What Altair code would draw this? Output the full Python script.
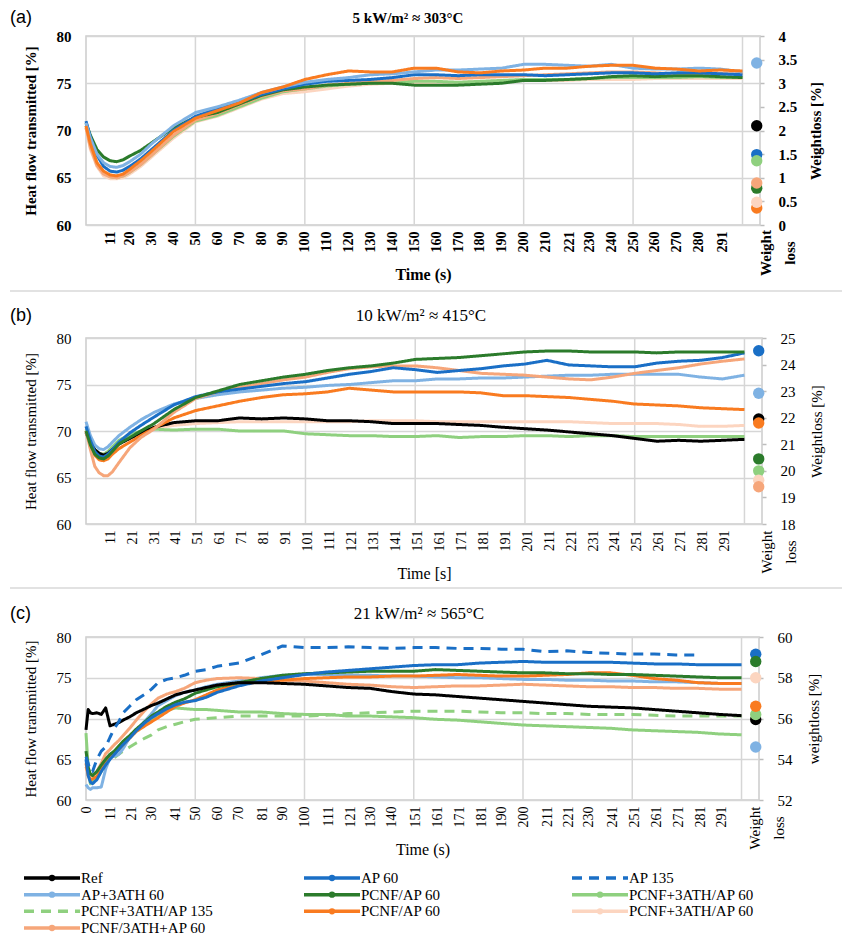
import altair as alt
import pandas as pd

# ---------------- series definitions ----------------
KEYS = ["ref", "ap60", "ap135", "ap3ath60", "pcnf_ap60_g", "pcnf3ath_ap60_lg",
        "pcnf3ath_ap135", "pcnf_ap60_o", "pcnf3ath_ap60_p", "pcnf_3athap60_s"]
LABELS = ["Ref", "AP 60", "AP 135", "AP+3ATH 60", "PCNF/AP 60", "PCNF+3ATH/AP 60",
          "PCNF+3ATH/AP 135", "PCNF/AP 60", "PCNF+3ATH/AP 60", "PCNF/3ATH+AP 60"]
COLORS = ["#000000", "#1a6fc6", "#1a6fc6", "#7fb2e3", "#2b7b2b", "#8fd07f",
          "#8fd07f", "#f97b20", "#fcd5c0", "#f6a67a"]
DASHED_KEYS = ["ap135", "pcnf3ath_ap135"]

# ---------------- panel (a): 5 kW/m2 ----------------
A_T = [0, 2, 5, 8, 11, 14, 17, 20, 25, 30, 40, 50, 60, 70, 80, 90, 100, 110, 120, 130,
       140, 150, 160, 170, 180, 190, 200, 210, 220, 230, 240, 250, 260, 270, 280, 290, 300]
A_AP60 = [71.0, 69.3, 67.4, 66.2, 65.7, 65.6, 65.8, 66.2, 67.0, 68.0, 70.0, 71.5, 72.3, 73.0,
          73.8, 74.4, 74.9, 75.2, 75.3, 75.4, 75.6, 75.9, 75.9, 75.8, 75.9, 75.9, 75.9, 75.8,
          75.9, 76.0, 76.1, 76.1, 76.0, 76.1, 76.1, 76.0, 75.9]
A_AP3ATH60 = [70.8, 69.2, 67.5, 66.6, 66.2, 66.1, 66.3, 66.7, 67.5, 68.6, 70.5, 71.9, 72.5, 73.2,
              74.0, 74.6, 75.1, 75.4, 75.6, 75.9, 76.0, 76.2, 76.4, 76.4, 76.5, 76.6, 77.0, 77.0,
              76.9, 76.8, 77.0, 76.6, 76.5, 76.5, 76.6, 76.5, 76.2]
A_PCNF_G = [70.8, 69.5, 68.0, 67.2, 66.8, 66.7, 66.9, 67.3, 67.9, 68.7, 70.3, 71.4, 71.9, 72.8,
            73.7, 74.3, 74.6, 74.8, 74.9, 75.0, 75.0, 74.8, 74.8, 74.8, 74.9, 75.0, 75.3, 75.3,
            75.4, 75.5, 75.7, 75.8, 75.7, 75.8, 75.8, 75.7, 75.6]
A_PCNF3ATH_LG = [70.5, 68.5, 66.5, 65.5, 65.1, 65.0, 65.2, 65.6, 66.4, 67.4, 69.4, 71.0, 71.6, 72.5,
                 73.4, 74.1, 74.4, 74.7, 74.9, 75.0, 75.1, 75.2, 75.2, 75.1, 75.2, 75.3, 75.4, 75.4,
                 75.4, 75.5, 75.6, 75.6, 75.6, 75.6, 75.7, 75.6, 75.6]
A_PCNF_O = [70.5, 68.6, 66.6, 65.7, 65.3, 65.2, 65.4, 65.9, 66.8, 67.8, 69.9, 71.3, 72.1, 72.9,
            74.0, 74.6, 75.4, 75.9, 76.3, 76.2, 76.2, 76.6, 76.6, 76.2, 76.1, 76.3, 76.4, 76.6,
            76.6, 76.8, 76.9, 76.9, 76.6, 76.5, 76.3, 76.4, 76.3]
A_PCNF3ATH_P = [70.3, 68.0, 66.2, 65.2, 64.9, 64.9, 65.0, 65.4, 66.2, 67.2, 69.2, 70.9, 71.5, 72.4,
                73.3, 73.9, 74.1, 74.4, 74.7, 74.9, 75.0, 75.0, 75.1, 75.1, 75.2, 75.2, 75.3, 75.3,
                75.3, 75.4, 75.4, 75.4, 75.5, 75.5, 75.5, 75.5, 75.5]
A_PCNF_3ATH_S = [70.3, 68.2, 66.3, 65.4, 65.1, 65.0, 65.2, 65.6, 66.4, 67.4, 69.5, 71.1, 71.8, 72.7,
                 73.6, 74.2, 74.4, 74.8, 75.0, 75.2, 75.3, 75.5, 75.6, 75.5, 75.6, 75.7, 75.8, 75.9,
                 76.0, 76.1, 76.2, 76.2, 76.1, 76.0, 76.0, 76.0, 76.0]
A_DOT_KEYS = ["ap3ath60", "ref", "ap60", "pcnf3ath_ap60_lg", "pcnf_ap60_g",
              "pcnf_3athap60_s", "pcnf_ap60_o", "pcnf3ath_ap60_p"]
A_DOTS = [3.43, 2.1, 1.49, 1.36, 0.78, 0.89, 0.36, 0.48]
A_TICKS = [11, 20, 30, 40, 50, 60, 70, 80, 90, 100, 110, 120, 130, 140, 150, 160, 170, 180,
           190, 200, 210, 221, 230, 240, 250, 260, 270, 280, 291]

# ---------------- panel (b): 10 kW/m2 ----------------
B_T = [0, 2, 4, 6, 8, 10, 12, 15, 20, 25, 31, 40, 50, 60, 70, 80, 90, 100, 110, 120, 130,
       140, 150, 160, 170, 180, 190, 200, 210, 220, 230, 240, 250, 260, 270, 280, 290, 300]
B_REF = [69.8, 68.8, 68.0, 67.6, 67.4, 67.6, 68.0, 68.6, 69.2, 69.8, 70.4, 70.9, 71.1, 71.1,
         71.4, 71.3, 71.4, 71.3, 71.1, 71.1, 71.0, 70.8, 70.8, 70.8, 70.7, 70.6, 70.4, 70.25,
         70.1, 69.9, 69.7, 69.5, 69.2, 68.9, 69.0, 68.9, 69.0, 69.1]
B_AP60 = [70.5, 69.0, 67.8, 67.3, 67.2, 67.5, 68.0, 68.8, 69.8, 70.6, 71.5, 72.8, 73.7, 74.2,
          74.5, 74.8, 75.1, 75.3, 75.7, 76.1, 76.4, 76.8, 76.6, 76.3, 76.5, 76.7, 77.0, 77.2,
          77.6, 77.1, 77.0, 76.9, 76.9, 77.3, 77.5, 77.6, 77.9, 78.4]
B_AP3ATH60 = [71.0, 69.5, 68.5, 68.1, 68.0, 68.3, 68.8, 69.5, 70.4, 71.2, 72.0, 72.9, 73.5, 73.9,
              74.2, 74.4, 74.6, 74.7, 74.9, 75.0, 75.2, 75.4, 75.4, 75.6, 75.6, 75.7, 75.7, 75.8,
              75.9, 76.0, 76.0, 76.1, 76.1, 76.1, 76.1, 75.8, 75.6, 76.0]
B_PCNF_G = [70.0, 68.5, 67.5, 67.1, 67.0, 67.3, 67.8, 68.6, 69.3, 70.0, 70.8, 72.3, 73.6, 74.3,
            75.0, 75.4, 75.8, 76.1, 76.5, 76.8, 77.0, 77.3, 77.7, 77.8, 77.9, 78.1, 78.3, 78.5,
            78.6, 78.6, 78.5, 78.5, 78.5, 78.4, 78.5, 78.5, 78.5, 78.5]
B_PCNF3ATH_LG = [70.2, 69.0, 68.0, 67.6, 67.5, 67.8, 68.3, 69.0, 69.6, 70.0, 70.2, 70.1, 70.2, 70.2,
                 70.0, 70.0, 70.0, 69.7, 69.6, 69.5, 69.5, 69.4, 69.4, 69.5, 69.3, 69.4, 69.4, 69.5,
                 69.5, 69.4, 69.5, 69.5, 69.4, 69.4, 69.4, 69.4, 69.4, 69.4]
B_PCNF_O = [70.0, 68.6, 67.4, 66.9, 66.8, 67.0, 67.5, 68.1, 68.8, 69.5, 70.3, 71.4, 72.2, 72.7,
            73.2, 73.6, 73.9, 74.0, 74.2, 74.6, 74.4, 74.2, 74.2, 74.2, 74.2, 74.1, 73.8, 73.8,
            73.7, 73.6, 73.4, 73.2, 72.9, 72.8, 72.7, 72.5, 72.4, 72.3]
B_PCNF3ATH_P = [69.8, 68.8, 68.0, 67.6, 67.5, 67.7, 68.1, 68.7, 69.3, 69.8, 70.3, 70.6, 70.8, 70.9,
                71.0, 71.0, 71.0, 71.0, 71.0, 71.0, 71.1, 71.1, 71.1, 71.0, 71.0, 71.0, 71.0, 71.0,
                71.0, 71.0, 70.9, 70.8, 70.8, 70.8, 70.7, 70.5, 70.5, 70.6]
B_PCNF_3ATH_S = [70.0, 68.0, 66.2, 65.5, 65.2, 65.2, 65.6, 66.6, 68.2, 69.3, 70.2, 72.0, 73.5, 74.2,
                 74.7, 75.1, 75.5, 75.8, 76.3, 76.7, 76.9, 77.0, 77.0, 76.8, 76.5, 76.2, 76.1, 76.0,
                 75.8, 75.6, 75.5, 75.8, 76.2, 76.5, 76.8, 77.2, 77.5, 77.75]
B_DOT_KEYS = ["ap60", "ap3ath60", "ref", "pcnf_ap60_o", "pcnf_ap60_g",
              "pcnf3ath_ap60_lg", "pcnf3ath_ap60_p", "pcnf_3athap60_s"]
B_DOTS = [24.52, 22.92, 21.95, 21.8, 20.45, 20.0, 19.65, 19.4]
B_TICKS = [11, 21, 31, 41, 51, 61, 71, 81, 91, 101, 111, 121, 131, 141, 151, 161, 171, 181,
           191, 201, 211, 221, 231, 241, 251, 261, 271, 281, 291]

# ---------------- panel (c): 21 kW/m2 ----------------
C_T = [0, 1, 2, 3, 5, 7, 9, 11, 13, 15, 17, 20, 23, 27, 30, 33, 37, 41, 45, 50, 55, 60,
       70, 80, 90, 100, 110, 120, 130, 140, 150, 160, 170, 180, 190, 200, 210, 220, 230,
       240, 250, 260, 270, 280, 290, 300]
C_REF = [68.6, 71.1, 70.7, 70.6, 70.7, 70.5, 71.3, 69.1, 69.3, 69.5, 69.8, 70.2, 70.7, 71.2,
         71.6, 71.9, 72.4, 72.9, 73.2, 73.5, 73.8, 74.1, 74.4, 74.4, 74.3, 74.2, 74.0, 73.8,
         73.7, 73.3, 73.0, 72.9, 72.7, 72.5, 72.3, 72.1, 71.9, 71.7, 71.5, 71.4, 71.3, 71.1,
         70.9, 70.7, 70.5, 70.35]
C_AP135 = [65.3, 64.5, 63.5, 63.5, 65.0, 66.0, 66.5, 67.7, 68.8, 69.6, 70.7, 71.5, 72.3, 73.0,
           73.6, 74.4, 74.8, 75.0, 75.3, 75.8, 76.0, 76.4, 76.8, 77.8, 78.9, 78.7, 78.7, 78.8,
           78.7, 78.6, 78.7, 78.7, 78.6, 78.6, 78.5, 78.5, 78.2, 78.3, 78.1, 78.0, 77.9, 77.9,
           77.8, 77.8, None, None]
C_AP60 = [65.0, 63.0, 62.2, 62.0, 62.5, 63.5, 64.3, 65.0, 65.6, 66.2, 66.8, 67.6, 68.5, 69.5,
          70.1, 70.6, 71.2, 71.7, 72.0, 72.2, 72.6, 73.2, 74.0, 74.6, 75.0, 75.4, 75.7, 75.9,
          76.1, 76.3, 76.5, 76.6, 76.6, 76.8, 76.9, 77.0, 76.9, 76.9, 76.9, 76.9, 76.8, 76.7,
          76.7, 76.6, 76.6, 76.6]
C_AP3ATH60 = [61.9, 61.5, 61.3, 61.5, 61.5, 61.6, 63.8, 65.2, 65.4, 65.6, 66.3, 67.7, 68.5, 69.7,
              70.6, 71.6, 72.2, 72.8, 73.2, 73.5, 73.9, 74.2, 74.6, 75.0, 75.3, 75.4, 75.4, 75.3,
              75.3, 75.2, 75.2, 75.1, 75.0, 75.0, 74.9, 74.8, 74.8, 74.7, 74.7, 74.6, 74.6, 74.5,
              74.5, 74.4, 74.3, 74.3]
C_PCNF_G = [66.0, 64.0, 63.2, 63.0, 63.5, 64.3, 65.0, 65.6, 66.0, 66.6, 67.2, 67.9, 68.7, 69.6,
            70.3, 70.8, 71.5, 72.0, 72.4, 73.1, 73.5, 73.9, 74.4, 74.9, 75.3, 75.5, 75.6, 75.7,
            75.8, 75.8, 75.8, 76.0, 75.9, 75.8, 75.7, 75.6, 75.6, 75.5, 75.5, 75.4, 75.4, 75.3,
            75.2, 75.1, 75.0, 75.0]
C_PCNF3ATH_LG = [68.2, 64.0, 62.0, 62.3, 62.7, 63.5, 65.0, 65.6, 66.0, 66.6, 67.2, 67.8, 68.6, 69.4,
                 69.9, 70.5, 71.0, 71.3, 71.2, 71.1, 71.1, 71.0, 70.8, 70.8, 70.6, 70.5, 70.5, 70.3,
                 70.3, 70.2, 70.1, 69.9, 69.8, 69.6, 69.4, 69.2, 69.1, 69.0, 68.9, 68.8, 68.6, 68.5,
                 68.4, 68.3, 68.1, 68.0]
C_PCNF3ATH_135 = [None, None, None, None, None, None, None, None, 65.2, 65.6, 66.0, 66.5, 67.0,
                  67.6, 68.0, 68.6, 69.0, 69.3, 69.6, 69.9, 70.0, 70.1, 70.3, 70.3, 70.3, 70.3,
                  70.4, 70.6, 70.7, 70.8, 70.9, 70.9, 70.9, 70.8, 70.7, 70.7, 70.6, 70.6, 70.5,
                  70.5, 70.5, 70.4, 70.3, 70.3, 70.3, 70.3]
C_PCNF_O = [64.5, 63.0, 62.4, 62.6, 62.9, 63.8, 64.5, 65.3, 65.8, 66.2, 66.8, 67.6, 68.4, 69.1,
            69.6, 70.1, 70.8, 71.5, 71.9, 72.3, 72.9, 73.5, 74.2, 74.5, 74.7, 74.9, 75.0, 75.1,
            75.1, 75.2, 75.2, 75.3, 75.4, 75.3, 75.2, 75.2, 75.3, 75.4, 75.6, 75.6, 75.3, 74.9,
            74.7, 74.4, 74.3, 74.3]
C_PCNF_3ATH_S = [64.1, 63.2, 62.9, 63.0, 63.5, 64.5, 65.7, 66.2, 66.8, 67.3, 67.9, 68.8, 69.8, 71.0,
                 71.8, 72.5, 73.0, 73.3, 73.7, 74.4, 74.7, 74.9, 75.0, 74.9, 74.7, 74.6, 74.4, 74.2,
                 74.1, 73.9, 73.8, 73.9, 74.0, 74.0, 74.1, 74.2, 74.1, 74.0, 73.9, 73.9, 73.8, 73.8,
                 73.7, 73.7, 73.6, 73.6]
C_DOT_KEYS = ["ap60", "pcnf_ap60_g", "pcnf3ath_ap60_p", "ref", "pcnf3ath_ap60_lg",
              "pcnf_ap60_o", "ap3ath60"]
C_DOTS = [59.15, 58.8, 58.0, 55.95, 56.2, 56.6, 54.6]
C_TICKS = [0, 11, 21, 30, 41, 50, 60, 70, 81, 90, 100, 111, 121, 130, 140, 151, 161, 171, 181,
           190, 200, 211, 221, 230, 241, 251, 261, 271, 281, 291]

GRID_T = [50, 100, 150, 200, 250, 300]
WL_T = 306.5          # slot of the "Weight loss" category
X_DOMAIN = [0, 308]

SERIF = "Liberation Serif"
GRID = "#d6d6d6"

color_scale = alt.Scale(domain=KEYS, range=COLORS)
dash_scale = alt.Scale(domain=KEYS,
                       range=[[10, 7] if k in DASHED_KEYS else [1, 0] for k in KEYS])


def panel(cfg):
    W, H, fw = cfg["w"], cfg["h"], cfg["weight"]
    font = SERIF
    x_axis = alt.Axis(values=cfg["ticks"], format="d", grid=False, ticks=False, domain=False,
                      labelAngle=-90, labelFont=font, labelFontSize=14, labelFontWeight=fw,
                      labelPadding=6, labelOverlap=False, labelFlush=False, labelBound=False,
                      labelColor="black", title=cfg["xtitle"], titleFont=font,
                      titleFontSize=16, titleFontWeight=fw, titleColor="black",
                      titlePadding=14)
    x = alt.X("t:Q", scale=alt.Scale(domain=X_DOMAIN, nice=False, zero=False), axis=x_axis)
    y_axis = alt.Axis(values=[60, 65, 70, 75, 80], grid=True, gridColor=GRID, gridWidth=1.5,
                      ticks=False, domain=False, labelFont=font, labelFontSize=15,
                      labelFontWeight=fw, labelPadding=15, labelColor="black",
                      title="Heat flow transmitted [%]", titleFont=font, titleFontSize=15,
                      titleFontWeight=fw, titleColor="black", titlePadding=18)
    y = alt.Y("v:Q", scale=alt.Scale(domain=[60, 80], nice=False, zero=False), axis=y_axis)

    layers = [alt.Chart(pd.DataFrame({"t": GRID_T})).mark_rule(color=GRID, strokeWidth=1.5)
              .encode(x=x)]
    for k in cfg["order"]:
        df = pd.DataFrame({"t": cfg["t"], "v": cfg["lines"][k], "s": k}).dropna()
        layers.append(
            alt.Chart(df).mark_line(strokeWidth=3, strokeJoin="round").encode(
                x=x, y=y,
                color=alt.Color("s:N", scale=color_scale, legend=None),
                strokeDash=alt.StrokeDash("s:N", scale=dash_scale, legend=None)))

    one = pd.DataFrame({"k": [0]})
    layers.append(alt.Chart(one).mark_text(align="left", baseline="middle",
                                           font="Liberation Sans", fontSize=18, color="black")
                  .encode(x=alt.value(-76), y=alt.value(cfg["ly"]), text=alt.value(cfg["letter"])))
    layers.append(alt.Chart(one).mark_text(align="center", baseline="middle", font=font,
                                           fontSize=cfg["tsize"], fontWeight=fw, color="black")
                  .encode(x=alt.value(cfg["tx"]), y=alt.value(cfg["ly"]), text=alt.value(cfg["title"])))
    layers.append(alt.Chart(one).mark_text(angle=270, align="center", baseline="top",
                                           lineHeight=24, font=font, fontSize=15,
                                           fontWeight=fw, color="black")
                  .encode(x=alt.value(cfg["wlx"]), y=alt.value(H + 28),
                          text=alt.value(["Weight", "loss"])))
    if cfg["sep"] is not None:
        layers.append(alt.Chart(one).mark_rule(color="#d8d8d8", strokeWidth=1.5)
                      .encode(x=alt.value(-76), x2=alt.value(756), y=alt.value(cfg["sep"])))

    inner = alt.layer(*layers)

    r_axis = alt.Axis(orient="right", values=cfg["rvals"], format="~g", grid=False, ticks=True,
                      tickSize=4, tickColor="#bdbdbd", tickWidth=1.5, domain=False,
                      labelPadding=14, labelFont=font, labelFontSize=15, labelFontWeight=fw,
                      labelColor="black", title=cfg["rtitle"], titleAngle=270,
                      titleBaseline="top", titleFont=font,
                      titleFontSize=15, titleFontWeight=fw, titleColor="black",
                      titlePadding=cfg["rtp"])
    dots_df = pd.DataFrame({"t": WL_T, "w": cfg["dots"], "s": cfg["dot_keys"]})
    dots = alt.Chart(dots_df).mark_circle(size=130, opacity=1).encode(
        x=x,
        y=alt.Y("w:Q", scale=alt.Scale(domain=cfg["rdom"], nice=False, zero=False), axis=r_axis),
        color=alt.Color("s:N", scale=color_scale, legend=None))

    return alt.layer(inner, dots).resolve_scale(y="independent").properties(width=W, height=H)


pa = panel(dict(
    w=674, h=189, weight=600, t=A_T,
    lines={"ap60": A_AP60, "ap3ath60": A_AP3ATH60, "pcnf_ap60_g": A_PCNF_G,
           "pcnf3ath_ap60_lg": A_PCNF3ATH_LG, "pcnf_ap60_o": A_PCNF_O,
           "pcnf3ath_ap60_p": A_PCNF3ATH_P, "pcnf_3athap60_s": A_PCNF_3ATH_S},
    order=["pcnf3ath_ap60_p", "pcnf3ath_ap60_lg", "pcnf_3athap60_s", "pcnf_ap60_g",
           "ap60", "ap3ath60", "pcnf_ap60_o"],
    dots=A_DOTS, dot_keys=A_DOT_KEYS, ticks=A_TICKS, xtitle="Time (s)",
    rtitle="Weightloss [%]", rdom=[0, 4], rvals=[0, 0.5, 1, 1.5, 2, 2.5, 3, 3.5, 4], rtp=12,
    letter="(a)", title="5 kW/m² ≈ 303°C", tx=322, ly=-18, tsize=15, sep=255, wlx=673))

pb = panel(dict(
    w=676, h=186, weight="normal", t=B_T,
    lines={"ref": B_REF, "ap60": B_AP60, "ap3ath60": B_AP3ATH60, "pcnf_ap60_g": B_PCNF_G,
           "pcnf3ath_ap60_lg": B_PCNF3ATH_LG, "pcnf_ap60_o": B_PCNF_O,
           "pcnf3ath_ap60_p": B_PCNF3ATH_P, "pcnf_3athap60_s": B_PCNF_3ATH_S},
    order=["pcnf3ath_ap60_p", "pcnf3ath_ap60_lg", "ref", "ap3ath60", "pcnf_ap60_o",
           "pcnf_3athap60_s", "ap60", "pcnf_ap60_g"],
    dots=B_DOTS, dot_keys=B_DOT_KEYS, ticks=B_TICKS, xtitle="Time [s]",
    rtitle="Weightloss [%]", rdom=[18, 25], rvals=[18, 19, 20, 21, 22, 23, 24, 25], rtp=14,
    letter="(b)", title="10 kW/m² ≈ 415°C", tx=335, ly=-22, tsize=17, sep=250, wlx=674))

pc = panel(dict(
    w=673, h=163, weight="normal", t=C_T,
    lines={"ref": C_REF, "ap60": C_AP60, "ap135": C_AP135, "ap3ath60": C_AP3ATH60,
           "pcnf_ap60_g": C_PCNF_G, "pcnf3ath_ap60_lg": C_PCNF3ATH_LG,
           "pcnf3ath_ap135": C_PCNF3ATH_135, "pcnf_ap60_o": C_PCNF_O,
           "pcnf_3athap60_s": C_PCNF_3ATH_S},
    order=["pcnf3ath_ap60_lg", "pcnf3ath_ap135", "ap3ath60", "pcnf_3athap60_s",
           "pcnf_ap60_o", "pcnf_ap60_g", "ap60", "ref", "ap135"],
    dots=C_DOTS, dot_keys=C_DOT_KEYS, ticks=C_TICKS, xtitle="Time (s)",
    rtitle="weightloss [%]", rdom=[52, 60], rvals=[52, 54, 56, 58, 60], rtp=14,
    letter="(c)", title="21 kW/m² ≈ 565°C", tx=333, ly=-23, tsize=17, sep=None, wlx=662))

# ---------------- legend (built as its own small chart) ----------------
leg_df = pd.DataFrame({
    "s": KEYS, "label": LABELS,
    "row": [i // 3 for i in range(len(KEYS))],
    "col": [i % 3 for i in range(len(KEYS))],
    "dashed": [k in DASHED_KEYS for k in KEYS],
})
lx = alt.X("col:Q", scale=alt.Scale(domain=[0, 1, 2], range=[-34, 246, 514]), axis=None)
ly = alt.Y("row:Q", scale=alt.Scale(domain=[0, 3], range=[-35, 15]), axis=None)
leg_base = alt.Chart(leg_df).encode(x=lx, y=ly)
leg_line = leg_base.mark_point(shape="stroke", size=3136, strokeWidth=3.5, filled=False,
                               opacity=1).encode(
    color=alt.Color("s:N", scale=color_scale, legend=None),
    strokeDash=alt.StrokeDash("s:N", scale=dash_scale, legend=None))
leg_dot = leg_base.transform_filter("!datum.dashed").mark_point(
    shape="circle", filled=True, size=40, opacity=1).encode(
    color=alt.Color("s:N", scale=color_scale, legend=None))
leg_text = leg_base.mark_text(align="left", baseline="middle", dx=29, font=SERIF,
                              fontSize=15, color="black").encode(text="label:N")
legend = alt.layer(leg_line, leg_dot, leg_text).properties(
    width=673, height=10, view=alt.ViewBackground(stroke="transparent"))

chart = alt.vconcat(pa, pb, pc, legend, spacing=113, bounds="flush").properties(
    padding=0
).configure_view(stroke="#cccccc", strokeWidth=1.5)

chart.save("out.html", embed_options={"renderer": "svg", "actions": False})
